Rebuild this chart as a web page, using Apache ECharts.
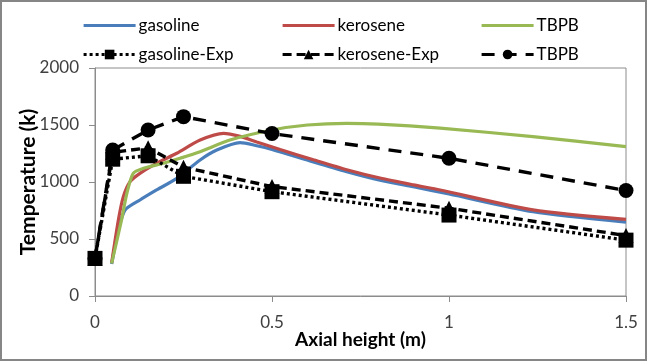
<!DOCTYPE html>
<html>
<head>
<meta charset="utf-8">
<script src="https://cdn.jsdelivr.net/npm/echarts@6/dist/echarts.min.js"></script>
<style>
  html, body { margin: 0; padding: 0; background: #fff; }
  #chart { width: 648px; height: 362px; }
</style>
</head>
<body>
<div id="chart"></div>
<script>
// Simulated temperature profiles (axial height in m, temperature in K)
const gasolineSimX = [0.047, 0.066, 0.085, 0.127, 0.174, 0.231, 0.297, 0.344, 0.41, 0.457, 0.5, 0.617, 0.711, 0.805, 0.899, 1.0, 1.237, 1.5];
const gasolineSimT = [280, 579, 754, 842, 930, 1032, 1193, 1280, 1345, 1318, 1285, 1175, 1090, 1015, 958, 895, 740, 648];

const keroseneSimX = [0.047, 0.066, 0.08, 0.099, 0.127, 0.174, 0.231, 0.297, 0.363, 0.41, 0.457, 0.523, 0.617, 0.711, 0.805, 0.899, 0.975, 1.237, 1.5];
const keroseneSimT = [290, 667, 871, 1003, 1076, 1164, 1252, 1368, 1427, 1400, 1350, 1285, 1195, 1108, 1035, 975, 930, 756, 672];

const tbpbSimX = [0.047, 0.075, 0.09, 0.108, 0.137, 0.193, 0.24, 0.297, 0.381, 0.5, 0.6, 0.711, 0.8, 0.975, 1.237, 1.5];
const tbpbSimT = [285, 667, 900, 1076, 1120, 1164, 1208, 1266, 1368, 1456, 1500, 1515, 1508, 1472, 1398, 1310];

// Measured temperatures
const expX = [0, 0.05, 0.15, 0.25, 0.5, 1.0, 1.5];
const gasolineExpT = [330, 1200, 1230, 1050, 915, 710, 490];
const keroseneExpT = [330, 1260, 1300, 1130, 960, 770, 530];
const tbpbExpT = [330, 1280, 1456, 1573, 1425, 1208, 925];

// Axis settings
const xTicks = [0, 0.5, 1, 1.5];
const yTicks = [0, 500, 1000, 1500, 2000];

const FONT = 'Lato, "Open Sans", sans-serif';

function pairs(xs, ys) {
  return xs.map((x, i) => [x, ys[i]]);
}

const simLine = (name, color, xs, ys) => ({
  name: name,
  type: 'line',
  data: pairs(xs, ys),
  smooth: 0.25,
  showSymbol: false,
  symbol: 'none',
  lineStyle: { color: color, width: 3.2 },
  itemStyle: { color: color },
  z: 2
});

const expLine = (name, symbol, dash, xs, ys) => ({
  name: name,
  type: 'line',
  data: pairs(xs, ys),
  symbol: symbol,
  symbolSize: 15,
  lineStyle: { color: '#000', width: 3.4, type: dash, cap: 'butt' },
  itemStyle: { color: '#000' },
  z: 3
});

// One legend block per entry so the three columns line up like a table
const legendAt = (item, left, top, label) => ({
  data: [item],
  left: left,
  top: top,
  itemWidth: 52,
  itemHeight: 12,
  itemGap: 0,
  selectedMode: false,
  lineStyle: { width: 3.2 },
  textStyle: { fontFamily: FONT, fontSize: 17, color: '#000', padding: [0, 0, 0, -2] },
  formatter: label ? () => label : undefined
});

const plainItem = (name) => ({ name: name, itemStyle: { opacity: 0 } });

const chart = echarts.init(document.getElementById('chart'), null, { renderer: 'canvas' });

chart.setOption({
  animation: false,
  backgroundColor: '#fff',
  legend: [
    legendAt(plainItem('gasoline'), 77, 12),
    legendAt(plainItem('kerosene'), 276, 12),
    legendAt(plainItem('TBPB'), 475, 12),
    legendAt('gasoline-Exp', 77, 41),
    legendAt('kerosene-Exp', 276, 41),
    legendAt('TBPB-Exp', 475, 41, 'TBPB')
  ],
  graphic: [{
    type: 'rect',
    shape: { x: 1, y: 1, width: 645, height: 359 },
    style: { fill: 'none', stroke: '#868686', lineWidth: 2 },
    silent: true,
    z: 100
  }],
  grid: {
    left: 95, right: 22, top: 68, bottom: 66,
    show: true,
    borderColor: '#8c8c8c',
    borderWidth: 1
  },
  xAxis: {
    type: 'value',
    min: xTicks[0],
    max: xTicks[xTicks.length - 1],
    interval: 0.5,
    name: 'Axial height (m)',
    nameLocation: 'middle',
    nameGap: 34,
    nameMoveOverlap: false,
    nameTextStyle: { fontFamily: FONT, fontSize: 19, fontWeight: 'bold', color: '#000' },
    axisLine: { lineStyle: { color: '#8c8c8c', width: 1 } },
    axisTick: { show: true, length: 6, lineStyle: { color: '#8c8c8c' } },
    axisLabel: { fontFamily: FONT, fontSize: 17, color: '#404040', margin: 18 },
    splitLine: { show: false }
  },
  yAxis: {
    type: 'value',
    min: yTicks[0],
    max: yTicks[yTicks.length - 1],
    interval: 500,
    name: 'Temperature (k)',
    nameLocation: 'middle',
    nameGap: 56,
    nameMoveOverlap: false,
    nameTextStyle: { fontFamily: FONT, fontSize: 21, fontWeight: 'bold', color: '#000' },
    axisLine: { show: true, lineStyle: { color: '#8c8c8c', width: 1 } },
    axisTick: { show: true, length: 6, lineStyle: { color: '#8c8c8c' } },
    axisLabel: { fontFamily: FONT, fontSize: 17, color: '#404040', margin: 16, formatter: (v) => String(v) },
    splitLine: { show: false }
  },
  series: [
    simLine('gasoline', '#4a7ebb', gasolineSimX, gasolineSimT),
    simLine('kerosene', '#be4b48', keroseneSimX, keroseneSimT),
    simLine('TBPB', '#98b954', tbpbSimX, tbpbSimT),
    expLine('TBPB-Exp', 'circle', [13, 9], expX, tbpbExpT),
    expLine('kerosene-Exp', 'triangle', [9, 5], expX, keroseneExpT),
    expLine('gasoline-Exp', 'rect', [3, 3], expX, gasolineExpT)
  ]
});
</script>
</body>
</html>
